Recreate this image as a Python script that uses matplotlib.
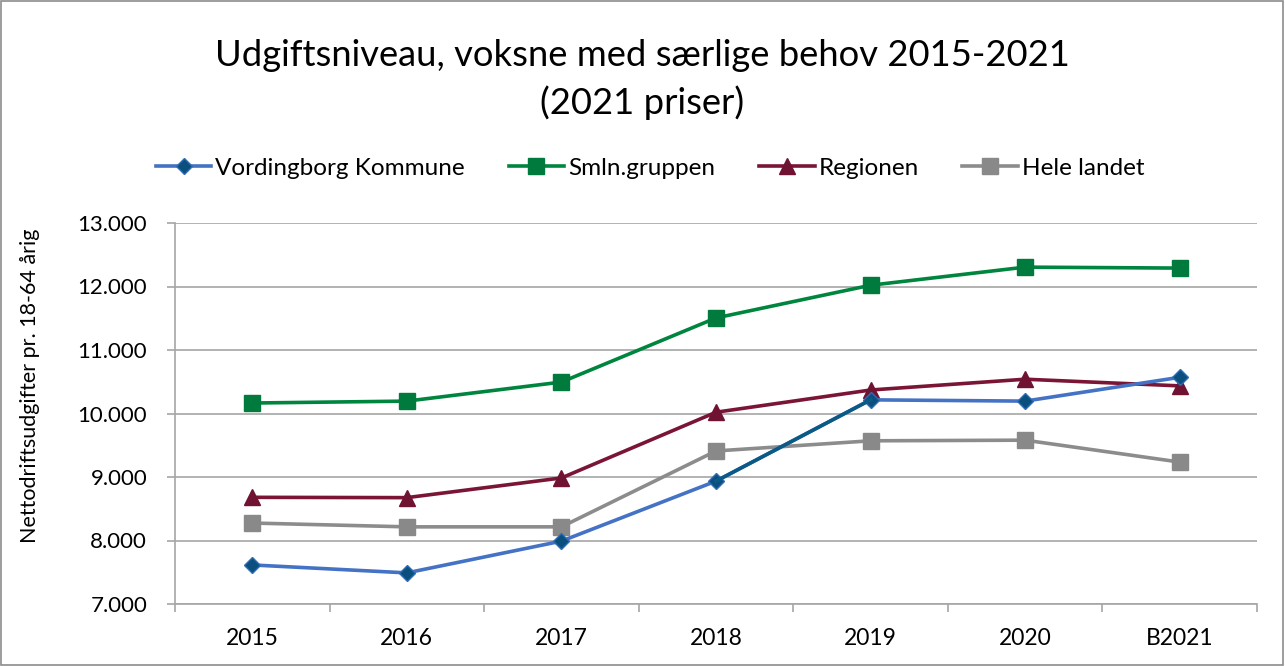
import matplotlib
matplotlib.use("Agg")
import matplotlib.pyplot as plt
from matplotlib.ticker import FuncFormatter, FixedLocator
from matplotlib.patches import Rectangle

plt.rcParams['font.family'] = ['Lato', 'DejaVu Sans']

categories = ["2015", "2016", "2017", "2018", "2019", "2020", "B2021"]
vordingborg = [7615, 7490, 7990, 8935, 10215, 10195, 10570]
smln = [10165, 10195, 10495, 11505, 12020, 12305, 12290]
regionen = [8680, 8675, 8985, 10020, 10370, 10540, 10435]
hele_landet = [8275, 8215, 8215, 9410, 9570, 9580, 9235]
series_names = ["Vordingborg Kommune", "Smln.gruppen", "Regionen", "Hele landet"]

W, H = 1285, 666
fig = plt.figure(figsize=(W / 100, H / 100), dpi=100)
ax = fig.add_axes([175 / W, 1 - 604 / H, (1257 - 175) / W, (604 - 223) / H])

x = list(range(len(categories)))
l1, = ax.plot(x, vordingborg, color="#4472C4", lw=2.6, marker="D", ms=8.5,
              mfc="#0B4F7E", mec="#2E6DB4", mew=1, zorder=5)
ax.plot(x[3:5], vordingborg[3:5], color="#0B5A85", lw=2.6, zorder=5)
l2, = ax.plot(x, smln, color="#00853F", lw=2.6, marker="s", ms=11,
              mfc="#007A3D", mec="#007A3D", zorder=4)
l3, = ax.plot(x, regionen, color="#7B1535", lw=2.6, marker="^", ms=12,
              mfc="#701232", mec="#701232", zorder=4)
l4, = ax.plot(x, hele_landet, color="#8C8C8C", lw=2.6, marker="s", ms=11,
              mfc="#898989", mec="#898989", zorder=3)

ax.set_xlim(-0.5, len(categories) - 0.5)
ax.set_ylim(7000, 13000)
ax.set_yticks(range(7000, 13001, 1000))
ax.yaxis.set_major_formatter(FuncFormatter(lambda v, p: f"{int(v):,}".replace(",", ".")))
ax.grid(axis="y", color="#A6A6A6", lw=1.2)
ax.set_axisbelow(True)

ax.set_xticks(x)
ax.set_xticklabels(categories)
ax.xaxis.set_minor_locator(FixedLocator([i - 0.5 for i in range(len(categories) + 1)]))
ax.tick_params(axis="x", which="major", length=0, pad=17, labelsize=16.5)
ax.tick_params(axis="x", which="minor", length=6, color="#A6A6A6", width=1.2)
ax.tick_params(axis="y", which="major", length=6, color="#A6A6A6", width=1.2, labelsize=16, pad=14)

for s in ["top", "right"]:
    ax.spines[s].set_visible(False)
for s in ["left", "bottom"]:
    ax.spines[s].set_color("#A6A6A6")
    ax.spines[s].set_linewidth(1.2)

fig.text(30 / W, 1 - 386 / H, "Nettodriftsudgifter pr. 18-64 årig", rotation=90,
         ha="center", va="center", fontsize=15.5)

fig.text(0.5, 1 - 55 / H, "Udgiftsniveau, voksne med særlige behov 2015-2021",
         ha="center", va="center", fontsize=26.2)
fig.text(0.5, 1 - 103 / H, "(2021 priser)", ha="center", va="center", fontsize=26.2)

fig.legend([l1, l2, l3, l4], series_names, ncol=4, loc="center",
           bbox_to_anchor=(650 / W, 1 - 168 / H), frameon=False, fontsize=17.5,
           handlelength=2.3, columnspacing=1.8, handletextpad=0.15)

fig.patches.append(Rectangle((1 / W, 1 / H), (W - 3) / W, (H - 2) / H,
                             transform=fig.transFigure, fill=False,
                             edgecolor="#8C8C8C", lw=1.2))

fig.savefig("out.png", dpi=100)
